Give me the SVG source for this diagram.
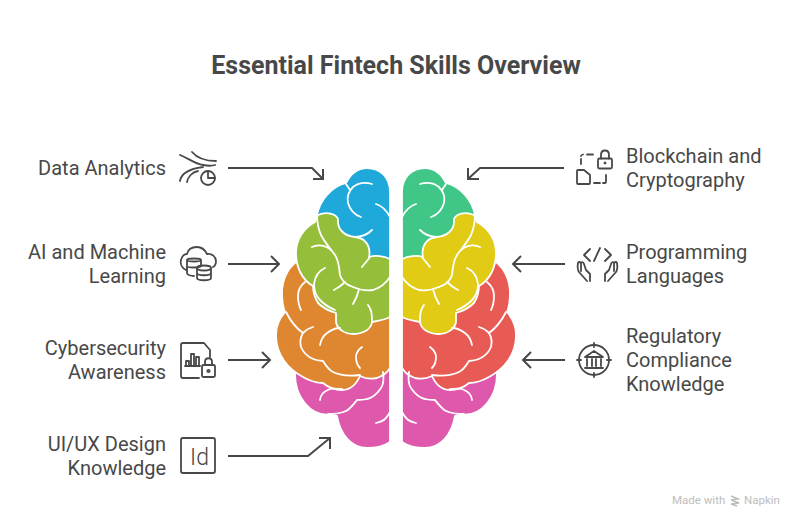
<svg xmlns="http://www.w3.org/2000/svg" width="804" height="528" viewBox="0 0 804 528">
<style>
text{font-family:Roboto,"Liberation Sans",sans-serif;fill:#484848}
.lbl{font-size:20px}
.e{text-anchor:end}
.ttl{font-size:25px;font-weight:700;text-anchor:middle}
.wm{font-size:11.5px;fill:#bdbdbd}
.lobe{stroke:#fff;stroke-width:1.8;stroke-linejoin:round}
.fold{fill:none;stroke:#fff;stroke-width:1.8;stroke-linecap:round;stroke-linejoin:round}
.con{fill:none;stroke:#484848;stroke-width:2}
.ic{fill:none;stroke:#484848;stroke-width:1.8;stroke-linecap:round;stroke-linejoin:round}
</style>
<defs>
<path id="p-blue" d="M390 264V192C390 177 380 168 367 168C357 168 350 175 346 183C331 187 320 200 317 215L340 250L390 264Z"/>
<path id="p-pink" d="M295 365V374C295 397 310 415 328 415C331 415 334 415 337 416C340 435 352 448 367 448C376 448 384 446 390 442V360Z"/>
<path id="p-orange" d="M296 262C287 269 282 281 282 293C282 300 283 307 285 312C279 319 276 327 276 335C276 355 288 369 303 377C310 381 317 383 323 383C330 389 336 390 342 390C350 390 356 385 360 376C366 379 372 379 377 378C383 376 387 373 390 368V300L320 270Z"/>
<path id="p-green" d="M318 215C327 211 336 214 338 219C337 230 345 236 355 237C367 238 371 248 369 257C375 255 384 256 390 259V317C384 320 378 321 372 322C371 330 362 334 353 334C345 334 337 329 336 322C336 317 336 315 336 313C329 311 323 308 318 303C315 298 313 292 313 286C302 280 296 267 296 253C296 239 304 228 315 222Z"/>
<g id="f-blue" class="fold"><path d="M372 184C365 182 358 183 353 187C348 192 347 198 348 203C350 210 355 215 361 217M346 184L350 190M376 204C382 206 387 211 390 217M372 230C368 234 362 237 355 237"/></g>
<g id="f-green" class="fold"><path d="M317 215C317 222 318 228 321 235C325 243 331 249 335 255C339 261 339 268 340 275C342 282 347 285 353 287C360 290 367 291 373 290C380 288 386 283 390 277M312 247C318 244 326 245 332 251M325 268C318 271 315 277 314 284C314 291 316 296 320 300C325 305 330 308 335 310M334 290C338 288 342 285 345 282M353 304C356 299 358 294 359 289M362 267C365 263 368 260 370 257M368 305C371 309 372 312 372 322"/></g>
<g id="f-orange" class="fold"><path d="M305 282C300 286 298 291 298 296C298 301 299 306 301 310M286 312C290 320 296 328 303 333C306 330 309 328 313 327M303 333C300 338 300 343 301 347C304 354 310 360 323 361C326 366 329 370 333 372C341 376 351 376 360 375M320 345C321 340 323 336 327 333C331 330 336 328 340 328M362 347C358 350 356 353 356 357C356 362 358 366 360 368M342 389C338 389 333 388 330 389C325 391 320 395 320 400"/></g>
<g id="f-pink" class="fold"><path d="M383 372C384 379 384 384 381 388C377 394 372 398 367 399C363 400 360 400 357 400C353 405 350 409 346 411C340 414 334 414 328 414M376 423C380 422 384 420 385 419C387 417 389 414 390 412"/></g>
</defs>

<g id="brain">
<g id="brain-left">
<use href="#p-blue" class="lobe" fill="#1FA9DB"/>
<use href="#p-pink" class="lobe" fill="#DE58AB"/>
<use href="#p-orange" class="lobe" fill="#DF8630"/>
<use href="#p-green" class="lobe" fill="#95BE3A"/>
<use href="#f-blue"/><use href="#f-green"/><use href="#f-orange"/><use href="#f-pink"/>
</g>
<g id="brain-right" transform="matrix(-1 0 0 1 792 0)">
<use href="#p-blue" class="lobe" fill="#40C788"/>
<use href="#p-pink" class="lobe" fill="#DE58AB"/>
<use href="#p-orange" class="lobe" fill="#E85B55"/>
<use href="#p-green" class="lobe" fill="#E1CB15"/>
<use href="#f-blue"/><use href="#f-green"/><use href="#f-orange"/><use href="#f-pink"/>
</g>
</g>

<text class="ttl" x="396" y="74">Essential Fintech Skills Overview</text>

<g id="connectors" class="con">
<path d="M228 168H312L323 179M313 179H323V169"/>
<path d="M228 264H278M271 256L279 264L271 272"/>
<path d="M228 360H270M262 352L270 360L262 368"/>
<path d="M228 456H308L330 438M319 438H330V449"/>
<path d="M564 168H480L468 179M468 168V179H479"/>
<path d="M565 264H514M521 256L513 264L521 272"/>
<path d="M565 360H524M531 352L523 360L531 368"/>
</g>

<g id="node-data-analytics">
<text class="lbl e" x="166" y="175">Data Analytics</text>
<g class="ic"><path d="M180 155C188 158 195 164 203 165C208 166 212 166 215 165M192 152C197 158 204 161 216 161M180 181C181 174 188 169 203 167M187 182C188 177 192 172 198 171"/><circle cx="208" cy="178" r="7"/><path d="M208 171V178H215"/></g>
</g>

<g id="node-ai-machine-learning">
<text class="lbl e" x="166" y="259">AI and Machine</text>
<text class="lbl e" x="166" y="283">Learning</text>
<g class="ic"><path d="M187 270H186C182 268 180 264 181 260C182 256 184 254 187 254C188 249 192 247 197 247C201 247 205 250 207 254C212 253 216 257 216 261C216 264 215 266 213 267"/><path d="M187 260C187 258 201 258 201 260V266C201 268 187 268 187 266ZM187 260V273C187 275 191 276 194 276M187 266V270M187 260C187 262 201 262 201 260"/><ellipse cx="204" cy="268" rx="7" ry="2.500"/><path d="M197 268V278C197 281 211 281 211 278V268M197 273C197 276 211 276 211 273"/></g>
</g>

<g id="node-cybersecurity">
<text class="lbl e" x="166" y="355">Cybersecurity</text>
<text class="lbl e" x="166" y="379">Awareness</text>
<g class="ic"><path d="M199 378H183Q181 378 181 376V345Q181 343 183 343H204L210 350V357"/><path d="M185 366H200M186 366V361H189V366M191 366V354H194V366M196 366V357H199V366"/><rect x="202" y="365" width="13" height="12" rx="1.500"/><path d="M205 365V362C205 357 212 357 212 362V365"/><circle cx="208.500" cy="371" r="1.200"/></g>
</g>

<g id="node-ui-ux">
<text class="lbl e" x="166" y="451">UI/UX Design</text>
<text class="lbl e" x="166" y="475">Knowledge</text>
<rect class="ic" x="181" y="438" width="34" height="35" rx="2"/>
<text x="190" y="465" style="font-size:23px;font-weight:300">Id</text>
</g>

<g id="node-blockchain">
<text class="lbl" x="626" y="163">Blockchain and</text>
<text class="lbl" x="626" y="187">Cryptography</text>
<g class="ic"><path d="M581 164V159M581 156Q581 155 583 154.500M587 154.500H593"/><rect x="598" y="158.500" width="14" height="10" rx="1.500"/><path d="M601 158.500V155C601 149 609 149 609 155V158.500"/><circle cx="605" cy="163" r=".6"/><path d="M577 171Q577 170 578 170H584L590 175V183Q590 184 589 184H578Q577 184 577 183ZM594 183H600M603 183H605Q606 183 606 181V175"/></g>
</g>

<g id="node-programming">
<text class="lbl" x="626" y="259">Programming</text>
<text class="lbl" x="626" y="283">Languages</text>
<g class="ic"><path d="M590 249L584 255L590 261M605 249L611 255L605 261M600 248L594 261"/><path d="M587 281L579 272Q577 269 578 263Q579 261 581 263L581 271M581 263Q583 261 584 264L586 270L590 274V281"/><path d="M608 281L616 272Q618 269 617 263Q616 261 614 263L614 271M614 263Q612 261 611 264L609 270L605 274V281"/></g>
</g>

<g id="node-regulatory">
<text class="lbl" x="626" y="343">Regulatory</text>
<text class="lbl" x="626" y="367">Compliance</text>
<text class="lbl" x="626" y="391">Knowledge</text>
<g class="ic"><circle cx="594" cy="360" r="15"/><path d="M594 343V347M594 373V377M577 360H581M607 360H611M585 357L594 351L603 357ZM587 359V366M592 359V366M596 359V366M601 359V366M585 368H603"/></g>
</g>

<g id="watermark">
<text class="wm" x="672" y="504">Made with</text>
<path d="M731 496L738 499L731 500M731 500L739 503L731 504M731 504L737 506" fill="none" stroke="#bdbdbd" stroke-width="1.500"/>
<text class="wm" x="744" y="504">Napkin</text>
</g>
</svg>
